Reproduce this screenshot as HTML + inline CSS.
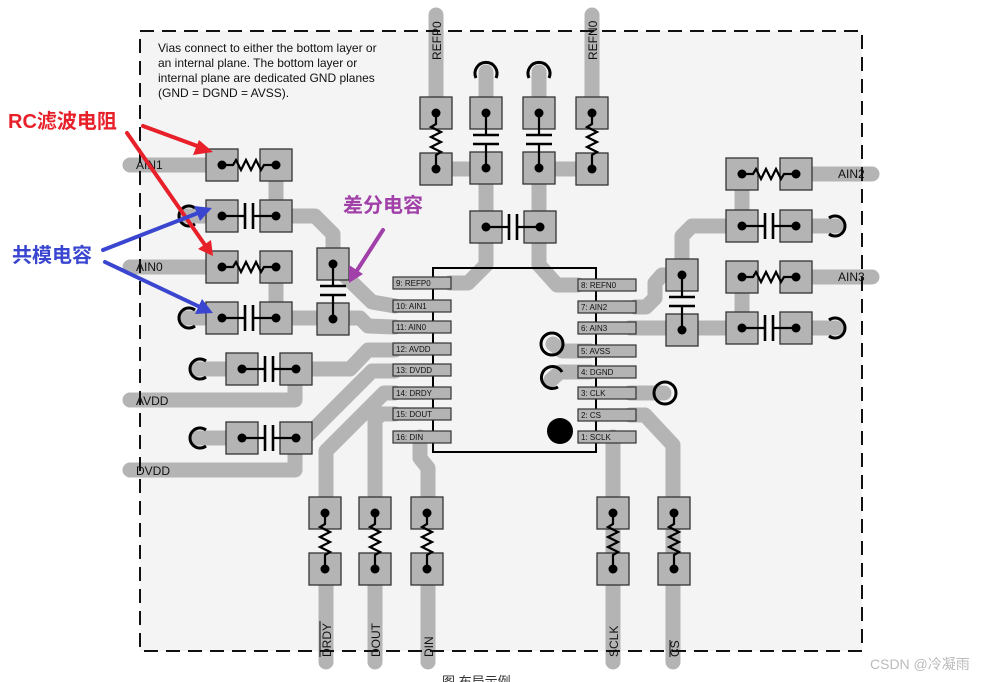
<!DOCTYPE html>
<html><head><meta charset="utf-8"><style>
html,body{margin:0;padding:0;background:#fff;}
svg{display:block;}
.t{font-family:"Liberation Sans",sans-serif;}
</style></head><body>
<svg width="1005" height="682" viewBox="0 0 1005 682" xmlns="http://www.w3.org/2000/svg">
<defs>
<g id="rh">
 <rect x="0" y="0" width="32" height="32" fill="#b4b4b4" stroke="#333" stroke-width="1.3"/>
 <rect x="54" y="0" width="32" height="32" fill="#b4b4b4" stroke="#333" stroke-width="1.3"/>
 <polyline points="16,16 27,16 30,11 35,21 40,11 45,21 50,11 55,21 58,16 70,16" fill="none" stroke="#000" stroke-width="2.2"/>
 <circle cx="16" cy="16" r="4.5"/><circle cx="70" cy="16" r="4.5"/>
</g>
<g id="ch">
 <rect x="0" y="0" width="32" height="32" fill="#b4b4b4" stroke="#333" stroke-width="1.3"/>
 <rect x="54" y="0" width="32" height="32" fill="#b4b4b4" stroke="#333" stroke-width="1.3"/>
 <line x1="16" y1="16" x2="39" y2="16" stroke="#000" stroke-width="2.2"/>
 <line x1="47" y1="16" x2="70" y2="16" stroke="#000" stroke-width="2.2"/>
 <line x1="39" y1="3" x2="39" y2="29" stroke="#000" stroke-width="2.6"/>
 <line x1="47" y1="3" x2="47" y2="29" stroke="#000" stroke-width="2.6"/>
 <circle cx="16" cy="16" r="4.5"/><circle cx="70" cy="16" r="4.5"/>
</g>
<g id="rv">
 <rect x="0" y="0" width="32" height="32" fill="#b4b4b4" stroke="#333" stroke-width="1.3"/>
 <rect x="0" y="56" width="32" height="32" fill="#b4b4b4" stroke="#333" stroke-width="1.3"/>
 <polyline points="16,16 16,27 11,30 21,35 11,40 21,45 11,50 21,55 16,58 16,72" fill="none" stroke="#000" stroke-width="2.2"/>
 <circle cx="16" cy="16" r="4.5"/><circle cx="16" cy="72" r="4.5"/>
</g>
<g id="cv">
 <rect x="0" y="0" width="32" height="32" fill="#b4b4b4" stroke="#333" stroke-width="1.3"/>
 <rect x="0" y="55" width="32" height="32" fill="#b4b4b4" stroke="#333" stroke-width="1.3"/>
 <line x1="16" y1="16" x2="16" y2="38" stroke="#000" stroke-width="2.2"/>
 <line x1="16" y1="47" x2="16" y2="71" stroke="#000" stroke-width="2.2"/>
 <line x1="3" y1="38" x2="29" y2="38" stroke="#000" stroke-width="2.6"/>
 <line x1="3" y1="47" x2="29" y2="47" stroke="#000" stroke-width="2.6"/>
 <circle cx="16" cy="16" r="4.5"/><circle cx="16" cy="71" r="4.5"/>
</g>
</defs>

<rect x="140" y="31" width="722" height="620" fill="#f4f4f4"/>

<!-- traces -->
<g fill="none" stroke="#b4b4b4" stroke-width="15" stroke-linecap="round" stroke-linejoin="round">
 <line x1="130" y1="165" x2="210" y2="165"/>
 <line x1="130" y1="267" x2="210" y2="267"/>
 <line x1="185" y1="216" x2="210" y2="216"/>
 <line x1="185" y1="318" x2="210" y2="318"/>
 <line x1="276" y1="165" x2="276" y2="216"/>
 <line x1="276" y1="267" x2="276" y2="318"/>
 <polyline points="276,216 315,216 333,234 333,260"/>
 <polyline points="333,264 372,302 395,306"/>
 <polyline points="276,318 360,318 368,326 395,327"/>
 <line x1="436" y1="15" x2="436" y2="110"/>
 <line x1="592" y1="15" x2="592" y2="110"/>
 <line x1="486" y1="72" x2="486" y2="110"/>
 <line x1="539" y1="72" x2="539" y2="110"/>
 <line x1="436" y1="169" x2="486" y2="169"/>
 <line x1="539" y1="169" x2="592" y2="169"/>
 <line x1="486" y1="169" x2="486" y2="227"/>
 <line x1="539" y1="169" x2="539" y2="227"/>
 <polyline points="486,227 486,265 468,283 450,283"/>
 <polyline points="539,227 539,265 557,285 578,285"/>
 <line x1="812" y1="174" x2="872" y2="174"/>
 <line x1="812" y1="277" x2="872" y2="277"/>
 <line x1="812" y1="226" x2="836" y2="226"/>
 <line x1="812" y1="328" x2="836" y2="328"/>
 <line x1="742" y1="174" x2="742" y2="226"/>
 <line x1="742" y1="277" x2="742" y2="328"/>
 <polyline points="742,226 692,226 682,236 682,275"/>
 <polyline points="682,275 662,275 655,283 655,298 646,307 635,307"/>
 <line x1="630" y1="328" x2="742" y2="328"/>
 <line x1="197" y1="369" x2="240" y2="369"/>
 <line x1="197" y1="438" x2="240" y2="438"/>
 <polyline points="130,400 295,400 295,369"/>
 <polyline points="130,470 295,470 295,438"/>
 <polyline points="295,369 350,369 368,350 395,350"/>
 <polyline points="295,438 305,438 372,371 395,371"/>
 <polyline points="395,393 384,393 326,451 326,510"/>
 <polyline points="395,414 381,414 375,420 375,510"/>
 <polyline points="420,437 420,458 428,468 428,510"/>
 <line x1="326" y1="560" x2="326" y2="662"/>
 <line x1="375" y1="560" x2="375" y2="662"/>
 <line x1="428" y1="560" x2="428" y2="662"/>
 <line x1="613" y1="437" x2="613" y2="662"/>
 <polyline points="630,415 645,415 673,445 673,662"/>
 <polyline points="553,344 562,351 590,351"/>
 <polyline points="551,380 560,372 590,372"/>
 <line x1="630" y1="393" x2="664" y2="393"/>
</g>

<rect x="140" y="31" width="722" height="620" fill="none" stroke="#111" stroke-width="2" stroke-dasharray="14,8"/>

<g fill="none" stroke="#000" stroke-width="3">
 <path d="M195,208 A10,10 0 1,0 195,224"/>
 <path d="M195,310 A10,10 0 1,0 195,326"/>
 <path d="M206,361 A10,10 0 1,0 206,377"/>
 <path d="M206,430 A10,10 0 1,0 206,446"/>
 <path d="M476,78 A11,11 0 1,1 496,78"/>
 <path d="M529,78 A11,11 0 1,1 549,78"/>
 <path d="M829,218 A10,10 0 1,1 829,234"/>
 <path d="M829,320 A10,10 0 1,1 829,336"/>
 <circle cx="552" cy="344" r="11"/>
 <path d="M562,372 A11,11 0 1,0 558,387"/>
 <circle cx="665" cy="393" r="11"/>
</g>
<circle cx="560" cy="431" r="13" fill="#000"/>

<use href="#rh" x="206" y="149"/>
<use href="#ch" x="206" y="200"/>
<use href="#rh" x="206" y="251"/>
<use href="#ch" x="206" y="302"/>
<use href="#cv" x="317" y="248"/>
<use href="#ch" x="226" y="353"/>
<use href="#ch" x="226" y="422"/>
<use href="#rv" x="420" y="97"/>
<use href="#cv" x="470" y="97"/>
<use href="#cv" x="523" y="97"/>
<use href="#rv" x="576" y="97"/>
<use href="#ch" x="470" y="211"/>
<use href="#rh" x="726" y="158"/>
<use href="#ch" x="726" y="210"/>
<use href="#rh" x="726" y="261"/>
<use href="#ch" x="726" y="312"/>
<use href="#cv" x="666" y="259"/>
<use href="#rv" x="309" y="497"/>
<use href="#rv" x="359" y="497"/>
<use href="#rv" x="411" y="497"/>
<use href="#rv" x="597" y="497"/>
<use href="#rv" x="658" y="497"/>

<rect x="433" y="268" width="163" height="184" fill="none" stroke="#000" stroke-width="2"/>
<g fill="#b4b4b4" stroke="#333" stroke-width="1.2">
 <rect x="393" y="277" width="58" height="12"/><rect x="393" y="300" width="58" height="12"/>
 <rect x="393" y="321" width="58" height="12"/><rect x="393" y="343" width="58" height="12"/>
 <rect x="393" y="364" width="58" height="12"/><rect x="393" y="387" width="58" height="12"/>
 <rect x="393" y="408" width="58" height="12"/><rect x="393" y="431" width="58" height="12"/>
 <rect x="578" y="279" width="58" height="12"/><rect x="578" y="301" width="58" height="12"/>
 <rect x="578" y="322" width="58" height="12"/><rect x="578" y="345" width="58" height="12"/>
 <rect x="578" y="366" width="58" height="12"/><rect x="578" y="387" width="58" height="12"/>
 <rect x="578" y="409" width="58" height="12"/><rect x="578" y="431" width="58" height="12"/>
</g>
<g class="t" font-size="8" fill="#111">
 <text x="396" y="286">9: REFP0</text><text x="396" y="309">10: AIN1</text>
 <text x="396" y="330">11: AIN0</text><text x="396" y="352">12: AVDD</text>
 <text x="396" y="373">13: DVDD</text><text x="396" y="396">14: DRDY</text>
 <text x="396" y="417">15: DOUT</text><text x="396" y="440">16: DIN</text>
 <text x="581" y="288">8: REFN0</text><text x="581" y="310">7: AIN2</text>
 <text x="581" y="331">6: AIN3</text><text x="581" y="354">5: AVSS</text>
 <text x="581" y="375">4: DGND</text><text x="581" y="396">3: CLK</text>
 <text x="581" y="418">2: CS</text><text x="581" y="440">1: SCLK</text>
</g>

<g class="t" font-size="12" fill="#111">
 <text x="158" y="52">Vias connect to either the bottom layer or</text>
 <text x="158" y="67">an internal plane. The bottom layer or</text>
 <text x="158" y="82">internal plane are dedicated GND planes</text>
 <text x="158" y="97">(GND = DGND = AVSS).</text>
 <text x="136" y="169">AIN1</text>
 <text x="136" y="271">AIN0</text>
 <text x="136" y="405">AVDD</text>
 <text x="136" y="475">DVDD</text>
 <text x="838" y="178">AIN2</text>
 <text x="838" y="281">AIN3</text>
 <text transform="translate(441,60) rotate(-90)">REFP0</text>
 <text transform="translate(597,60) rotate(-90)">REFN0</text>
 <text transform="translate(331,657) rotate(-90)">DRDY</text>
 <text transform="translate(380,657) rotate(-90)">DOUT</text>
 <text transform="translate(433,657) rotate(-90)">DIN</text>
 <text transform="translate(618,657) rotate(-90)">SCLK</text>
 <text transform="translate(679,657) rotate(-90)">CS</text>
</g>
<line x1="320" y1="621" x2="320" y2="657" stroke="#111" stroke-width="1"/>
<line x1="670" y1="640" x2="670" y2="657" stroke="#111" stroke-width="1"/>

<g font-weight="bold" font-size="20">
 <text x="8" y="128" fill="#e8202a" font-family="'Liberation Sans','Noto Sans CJK SC',sans-serif">RC滤波电阻</text>
 <text x="12" y="262" fill="#3a46d0" font-family="'Liberation Sans','Noto Sans CJK SC',sans-serif">共模电容</text>
 <text x="343" y="212" fill="#a040a8" font-family="'Liberation Sans','Noto Sans CJK SC',sans-serif">差分电容</text>
</g>
<g stroke-width="4" stroke-linecap="round">
 <line x1="143" y1="126" x2="200" y2="147" stroke="#e8202a"/>
 <line x1="127" y1="133" x2="205" y2="245" stroke="#e8202a"/>
 <line x1="103" y1="250" x2="198" y2="213" stroke="#3a46d0"/>
 <line x1="105" y1="262" x2="200" y2="307" stroke="#3a46d0"/>
 <line x1="383" y1="230" x2="356" y2="272" stroke="#a040a8"/>
</g>
<polygon points="213,152 193,155 199,140" fill="#e8202a"/>
<polygon points="213,256 198,249 211,240" fill="#e8202a"/>
<polygon points="212,208 200,221 194,206" fill="#3a46d0"/>
<polygon points="213,313 195,314 202,299" fill="#3a46d0"/>
<polygon points="349,283 349,265 363,274" fill="#a040a8"/>

<text x="870" y="669" font-size="14" fill="#bbb" font-family="'Liberation Sans','Noto Sans CJK SC',sans-serif">CSDN @冷凝雨</text>
<text x="442" y="686" font-size="13" fill="#333" font-family="'Liberation Sans','Noto Sans CJK SC',sans-serif">图        布局示例</text>
</svg>
</body></html>
